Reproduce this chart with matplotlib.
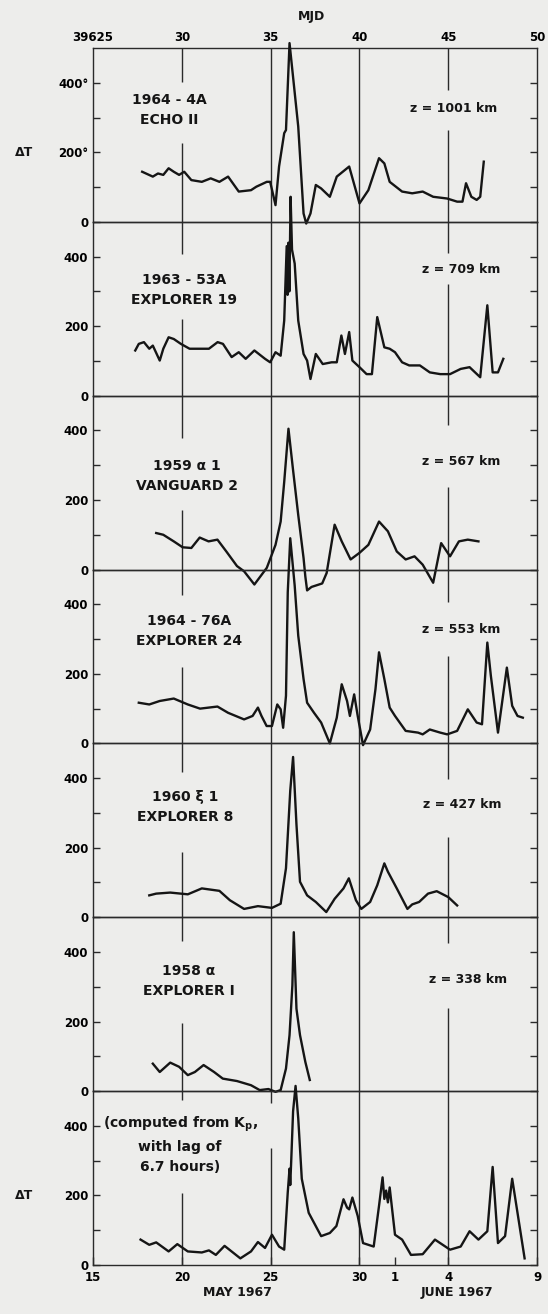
import matplotlib.pyplot as plt

# days after 1967 May 15 (MJD 39625), temperature excess dT in K
echo2_day = [2.76, 3.36, 3.65, 3.95, 4.25, 4.54, 4.84, 5.13, 5.53, 6.12, 6.62, 7.11, 7.6, 8.2, 8.89, 9.19,
             9.78, 9.97, 10.27, 10.47, 10.76, 10.86, 11.06, 11.55, 11.85, 12.0, 12.24, 12.54, 12.84, 13.33,
             13.72, 14.42, 15.0, 15.5, 16.1, 16.4, 16.7, 17.4, 17.97, 18.56, 19.15, 19.94, 20.5, 20.8, 21.0,
             21.3, 21.6, 21.8, 22.0]
echo2_dt = [144, 130, 139, 135, 154, 144, 135, 144, 120, 115, 125, 115, 130, 87, 91, 101,
            115, 115, 48, 159, 255, 264, 514, 274, 24, -5, 24, 106, 96, 72,
            130, 159, 53, 91, 183, 168, 115, 87, 82, 87, 72, 67, 58, 58, 111,
            72, 63, 72, 173]

explorer19_day = [2.37, 2.57, 2.86, 3.16, 3.36, 3.75, 3.95, 4.25, 4.54, 4.94, 5.43, 6.12, 6.52, 7.01, 7.31,
                  7.8, 8.2, 8.59, 9.08, 9.68, 9.97, 10.27, 10.56, 10.76, 10.9, 10.95, 11.0, 11.05, 11.12,
                  11.2, 11.35, 11.55, 11.85, 12.05, 12.24, 12.54, 12.93, 13.43, 13.72, 13.98, 14.18, 14.42,
                  14.6, 15.0, 15.4, 15.7, 16.0, 16.4, 16.7, 17.0, 17.4, 17.8, 18.4, 18.96, 19.55, 20.1,
                  20.7, 21.2, 21.8, 22.2, 22.5, 22.8, 23.1]
explorer19_dt = [130, 149, 154, 135, 144, 101, 135, 168, 163, 149, 135, 135, 135, 154, 149,
                 111, 125, 106, 130, 106, 96, 125, 115, 216, 430, 290, 440, 300, 572,
                 420, 380, 216, 120, 101, 48, 120, 91, 96, 96, 173, 120, 183,
                 101, 82, 62, 62, 226, 139, 135, 125, 96, 87, 87, 67, 62, 62,
                 77, 82, 53, 260, 67, 67, 106]

vanguard2_day = [3.55, 3.95, 4.54, 5.04, 5.53, 6.0, 6.5, 7.0, 7.5, 8.1, 8.5, 9.08, 9.78, 10.27, 10.56,
                 10.76, 11.0, 11.25, 11.55, 11.85, 11.95, 12.05, 12.3, 12.9, 13.15, 13.6, 14.0, 14.5, 15.0,
                 15.5, 16.1, 16.6, 17.1, 17.6, 18.1, 18.56, 19.15, 19.6, 20.1, 20.6, 21.1, 21.7]
vanguard2_dt = [105, 100, 81, 64, 62, 92, 81, 86, 52, 10, -5, -43, 5, 71, 138,
                252, 405, 290, 157, 33, -20, -60, -50, -40, -10, 129, 81, 29, 48,
                71, 138, 110, 52, 29, 38, 14, -38, 76, 38, 81, 86, 81]

explorer24_day = [2.57, 3.16, 3.75, 4.54, 5.33, 6.02, 7.0, 7.6, 8.5, 8.98, 9.28, 9.48, 9.77, 10.07, 10.37,
                  10.56, 10.7, 10.86, 10.96, 11.1, 11.35, 11.55, 11.85, 12.05, 12.44, 12.84, 13.33, 13.72,
                  14.0, 14.3, 14.46, 14.7, 14.9, 15.2, 15.6, 15.9, 16.1, 16.4, 16.7, 17.0, 17.6, 18.3,
                  18.56, 18.96, 19.55, 19.94, 20.5, 21.1, 21.6, 21.9, 22.2, 22.4, 22.8, 23.3, 23.6, 23.9,
                  24.2]
explorer24_dt = [117, 112, 122, 129, 112, 100, 106, 88, 69, 79, 103, 79, 50, 50, 112,
                 98, 45, 137, 435, 590, 454, 310, 185, 117, 88, 60, 0, 74,
                 170, 122, 79, 141, 79, -5, 40, 156, 262, 185, 103, 79, 36, 31,
                 26, 40, 31, 26, 36, 98, 60, 55, 290, 194, 31, 218, 108, 79,
                 74]

explorer8_day = [3.16, 3.55, 4.34, 5.33, 6.12, 7.11, 7.7, 8.5, 9.28, 10.07, 10.56, 10.86, 11.1, 11.26,
                 11.45, 11.65, 12.05, 12.54, 13.13, 13.6, 14.1, 14.4, 14.8, 15.1, 15.6, 16.0, 16.4, 16.6,
                 17.1, 17.7, 17.97, 18.36, 18.86, 19.35, 20.0, 20.5]
explorer8_dt = [63, 68, 71, 66, 83, 76, 49, 24, 32, 27, 39, 141, 364, 461,
                267, 102, 63, 44, 15, 53, 83, 112, 49, 24, 44, 92, 155, 131,
                83, 24, 37, 44, 68, 75, 58, 34]

explorer1_day = [3.36, 3.75, 4.34, 4.84, 5.33, 5.73, 6.22, 6.81, 7.3, 8.1, 8.89, 9.38, 9.87, 10.27, 10.56,
                 10.86, 11.06, 11.22, 11.3, 11.45, 11.65, 11.95, 12.2]
explorer1_dt = [79, 55, 82, 70, 46, 55, 75, 55, 36, 29, 17, 3, 6, -2, 3,
                65, 161, 304, 457, 237, 161, 84, 32]

kp_day = [2.67, 3.16, 3.55, 4.25, 4.74, 5.33, 6.12, 6.52, 6.91, 7.4, 8.29, 8.89, 9.28, 9.68, 10.07,
          10.47, 10.76, 10.96, 11.06, 11.1, 11.16, 11.26, 11.4, 11.55, 11.75, 12.14, 12.84, 13.33, 13.7,
          14.1, 14.3, 14.42, 14.6, 14.9, 15.2, 15.8, 16.1, 16.3, 16.4, 16.5, 16.6, 16.7, 17.0, 17.4,
          17.9, 18.56, 19.25, 20.1, 20.7, 21.2, 21.7, 22.2, 22.5, 22.8, 23.2, 23.6, 23.9, 24.3]
kp_dt = [73, 58, 65, 39, 60, 39, 36, 42, 29, 55, 19, 39, 66, 49, 87,
         53, 44, 209, 277, 230, 306, 442, 515, 422, 248, 150, 83, 92, 112,
         189, 165, 160, 194, 141, 63, 53, 170, 252, 190, 214, 180, 223, 87, 73,
         29, 31, 73, 44, 53, 97, 73, 97, 282, 63, 83, 248, 150, 19]

series = [
    (echo2_day, echo2_dt, '1964 - 4A\nECHO II', 'z = 1001 km', 4.3, 322, 20.3, 327),
    (explorer19_day, explorer19_dt, '1963 - 53A\nEXPLORER 19', 'z = 709 km', 5.1, 305, 20.7, 362),
    (vanguard2_day, vanguard2_dt, '1959 α 1\nVANGUARD 2', 'z = 567 km', 5.3, 268, 20.7, 311),
    (explorer24_day, explorer24_dt, '1964 - 76A\nEXPLORER 24', 'z = 553 km', 5.4, 322, 20.7, 329),
    (explorer8_day, explorer8_dt, '1960 ξ 1\nEXPLORER 8', 'z = 427 km', 5.2, 316, 20.8, 325),
    (explorer1_day, explorer1_dt, '1958 α\nEXPLORER I', 'z = 338 km', 5.4, 316, 21.1, 322),
    (kp_day, kp_dt, '(computed from K$_\\mathregular{p}$,\nwith lag of\n6.7 hours)', None, 4.9, 348, 0, 0),
]

# gaps (in dT units) in the vertical guide lines where labels sit
gaps = [
    {5: (227, 402), 20: (264, 379)},
    {5: (221, 408), 20: (322, 411)},
    {5: (172, 379), 20: (236, 417)},
    {5: (221, 428), 20: (250, 408)},
    {5: (187, 417), 20: (230, 397)},
    {5: (195, 431), 20: (238, 425)},
    {5: (207, 474), 10: (336, 465)},
]

bg = '#ededeb'
ink = '#151515'
plt.rcParams['font.family'] = 'DejaVu Sans'
plt.rcParams['font.weight'] = 'bold'

fig = plt.figure(figsize=(5.48, 13.14), dpi=100, facecolor=bg)
axes = fig.subplots(7, 1, sharex=True,
                    gridspec_kw=dict(hspace=0, left=0.170, right=0.980, top=0.9635, bottom=0.0373))

for i, ax in enumerate(axes):
    day, dt, name, alt, nx, ny, zx, zy = series[i]
    ax.set_facecolor('none')
    ax.set_xlim(0, 25)
    ax.set_ylim(0, 500)
    for s in ax.spines.values():
        s.set_color('#2a2a2a')
        s.set_linewidth(1.0)
    ax.set_yticks([0, 200, 400])
    ax.set_yticks([100, 300], minor=True)
    if i == 0:
        ax.set_yticklabels(['0', '200°', '400°'])
    ax.tick_params(axis='y', which='both', direction='in', length=5, width=1.0, color='#2a2a2a',
                   right=True, labelsize=8.5, pad=3.5)
    ax.tick_params(axis='x', which='both', direction='in', length=0, labelbottom=False)

    # vertical guide lines, broken where labels are
    for x in (5, 10, 15, 20):
        if x in gaps[i]:
            lo, hi = gaps[i][x]
            ax.vlines(x, 0, lo, color='#2a2a2a', lw=1.0)
            ax.vlines(x, hi, 500, color='#2a2a2a', lw=1.0)
        else:
            ax.vlines(x, 0, 500, color='#2a2a2a', lw=1.0)

    ax.plot(day, dt, color=ink, lw=1.7, clip_on=False, zorder=5)

    ax.text(nx, ny, name, ha='center', va='center', fontsize=10, linespacing=1.55, color=ink)
    if alt:
        ax.text(zx, zy, alt, ha='center', va='center', fontsize=9, color=ink)

for ax in (axes[0], axes[-1]):
    ax.text(-0.135, 200, 'ΔT', transform=ax.get_yaxis_transform(), ha='right', va='center',
            fontsize=9, color=ink)

# top MJD axis
top = axes[0].secondary_xaxis('top')
top.set_xticks([0, 5, 10, 15, 20, 25])
top.set_xticklabels(['39625', '30', '35', '40', '45', '50'])
top.tick_params(length=0, labelsize=8.5, pad=3)
top.spines['top'].set_visible(False)
axes[0].text(12.3, 1.18, 'MJD', transform=axes[0].get_xaxis_transform(), ha='center', va='center',
             fontsize=9, color=ink)

# bottom calendar axis
bot = axes[-1]
bot.set_xticks([0, 5, 10, 15, 17, 20, 25])
bot.set_xticklabels(['15', '20', '25', '30', '1', '4', '9'])
bot.tick_params(axis='x', length=6, width=1.0, color='#2a2a2a', labelbottom=True, labelsize=8.5, pad=4)
bot.text(8.1, -0.16, 'MAY 1967', transform=bot.get_xaxis_transform(), ha='center', va='center',
         fontsize=9, color=ink)
bot.text(20.5, -0.16, 'JUNE 1967', transform=bot.get_xaxis_transform(), ha='center', va='center',
         fontsize=9, color=ink)

fig.savefig('out.png', dpi=100, facecolor=bg)
